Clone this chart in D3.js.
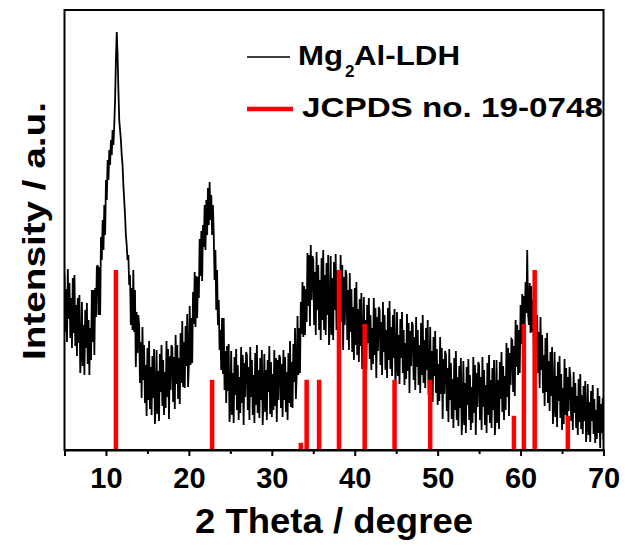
<!DOCTYPE html>
<html>
<head>
<meta charset="utf-8">
<script src="https://cdn.jsdelivr.net/npm/d3@7"></script>
<style>
  html, body { margin: 0; padding: 0; background: #fff; }
  svg { display: block; }
  text { font-family: "Liberation Sans", Arial, sans-serif; font-weight: bold; fill: #000; }
</style>
</head>
<body>
<svg id="chart" width="625" height="545"></svg>
<script>
// ---- data ----
const thetaStart = 5;      // first 2θ sample
const thetaStep = 0.1;     // sampling step (degree)
const intensity = [
175,118,161,108,181,131,167,112,152,102,
172,117,175,104,145,94,152,107,155,77,
95,148,84,125,75,140,102,147,86,130,
75,122,90,160,108,160,95,162,133,183,
185,135,183,135,213,190,230,200,245,215,
270,250,290,270,300,285,310,295,320,305,
325,350,390,418,395,360,330,320,310,295,
285,265,250,235,215,205,190,195,165,175,
125,162,120,180,118,160,83,138,97,135,
125,67,108,52,123,70,105,47,85,34,
102,50,109,41,83,35,94,52,101,26,
45,100,36,79,29,96,58,105,44,90,
35,78,42,109,53,101,31,94,60,105,
102,48,93,41,115,66,105,51,92,46,
117,67,129,63,108,62,124,84,136,63,
85,144,85,132,87,158,126,178,123,174,
132,173,152,211,174,219,169,225,203,245,
200,250,215,262,225,268,230,255,215,245,
215,170,200,140,180,125,150,100,120,80,
132,76,132,60,99,47,104,59,106,28,
45,99,35,77,27,93,55,101,40,85,
30,73,37,103,47,95,25,87,53,98,
95,40,83,30,103,53,90,35,75,27,
97,45,105,37,80,32,92,50,100,25,
50,96,38,80,30,90,58,104,36,88,
33,76,40,100,44,92,28,90,50,95,
92,42,86,33,100,50,93,38,78,30,
97,47,109,43,88,42,106,68,122,51,
75,134,75,122,77,148,116,168,113,164,
115,161,128,197,144,195,124,205,150,194,
190,125,178,115,198,140,185,120,170,110,
192,130,200,120,175,115,187,135,195,105,
130,194,115,172,110,188,140,196,120,180,
115,167,118,195,128,185,100,173,125,180,
175,110,160,100,177,118,161,98,143,90,
162,105,168,95,141,88,151,104,157,81,
100,153,89,130,80,145,107,152,91,135,
80,122,86,152,95,142,72,133,99,143,
140,85,128,75,148,98,135,80,120,72,
142,90,149,81,123,74,135,92,141,65,
85,138,74,115,66,131,92,138,77,120,
65,107,71,136,79,127,57,119,84,128,
125,70,113,60,133,83,120,65,105,57,
127,75,135,67,110,62,122,80,130,55,
70,123,58,99,48,113,74,119,57,101,
45,86,49,113,56,102,31,91,56,99,
95,39,82,28,101,50,87,31,71,22,
92,40,99,30,73,24,84,42,92,15,
35,89,25,67,17,83,45,91,30,75,
20,63,27,93,37,85,15,77,43,88,
85,30,73,20,93,43,80,25,65,17,
87,35,95,27,70,22,82,40,90,15,
35,90,27,70,21,88,51,98,38,84,
30,74,40,107,53,102,34,97,65,111,
110,58,104,54,130,83,125,75,120,77,
145,106,156,112,154,125,168,137,200,137,
125,167,117,164,118,150,100,138,95,132,
135,77,118,62,133,80,115,57,95,44,
112,58,117,47,89,39,98,54,103,26,
45,98,33,74,23,88,49,94,32,76,
20,62,26,91,35,82,12,73,39,83,
74,29,63,20,78,37,67,22,54,15,
71,28,76,21,55,16,64,29,69,8,
24,66,15,48,8,59,29,65,16,51,
7,40,11,62,17,54,2,46,17,52,
10
];
// JCPDS no. 19-0748 reference lines
const refTheta = [11.2, 22.8, 33.5, 34.2, 35.7, 38.1, 41.2, 44.8, 49.1, 59.2, 60.4, 61.7, 65.7];
const refIntensity = [100, 39, 4, 39, 39, 100, 70, 39, 39, 19, 70, 100, 19];
const majorTicks = [10, 20, 30, 40, 50, 60, 70];
const minorTicks = [5, 15, 25, 35, 45, 55, 65];
const xLabel = "2 Theta / degree";
const yLabel = "Intensity / a.u.";
const seriesNames = ["Mg", "2", "Al-LDH"];
const refName = "JCPDS no. 19-0748";

// ---- layout ----
const svg = d3.select("#chart");
const pLeft = 64.5, pRight = 603.5, pTop = 10, pBottom = 450;

const x = d3.scaleLinear().domain([5, 70]).range([pLeft, pRight]);
const y = d3.scaleLinear().domain([0, 440]).range([pBottom, pTop]);
const yRef = d3.scaleLinear().domain([0, 100]).range([pBottom, 270]);

const pattern = intensity.map((v, i) => ({ t: thetaStart + i * thetaStep, v }));

svg.append("defs").append("clipPath").attr("id", "clip")
  .append("rect").attr("x", pLeft).attr("y", pTop).attr("width", pRight - pLeft).attr("height", pBottom - pTop);

// black XRD pattern
svg.append("path")
  .datum(pattern)
  .attr("clip-path", "url(#clip)")
  .attr("fill", "none")
  .attr("stroke", "#000")
  .attr("stroke-width", 1.8)
  .attr("stroke-linejoin", "miter")
  .attr("d", d3.line().x(d => x(d.t)).y(d => y(d.v)));

// red reference bars
svg.append("g").selectAll("line")
  .data(refTheta.map((t, i) => ({ t, v: refIntensity[i] })))
  .join("line")
  .attr("x1", d => x(d.t)).attr("x2", d => x(d.t))
  .attr("y1", yRef(0)).attr("y2", d => yRef(d.v))
  .attr("stroke", "#f00")
  .attr("stroke-width", 4.5);

// frame
svg.append("rect")
  .attr("x", pLeft).attr("y", pTop)
  .attr("width", pRight - pLeft).attr("height", pBottom - pTop)
  .attr("fill", "none").attr("stroke", "#000").attr("stroke-width", 2);

// bottom axis
const gx = svg.append("g").attr("transform", `translate(0,${pBottom})`)
  .call(d3.axisBottom(x).tickValues(majorTicks).tickSize(6).tickFormat(d3.format("d")));
gx.select(".domain").attr("stroke-width", 2);
gx.selectAll(".tick line").attr("stroke-width", 2);
gx.selectAll(".tick text")
  .attr("y", 17).attr("dy", "0.71em")
  .style("font-size", "29px")
  .style("font-family", "'Liberation Sans', Arial, sans-serif")
  .style("font-weight", "bold");

const gm = svg.append("g").attr("transform", `translate(0,${pBottom})`)
  .call(d3.axisBottom(x).tickValues(minorTicks).tickSize(4).tickFormat(""));
gm.select(".domain").remove();
gm.selectAll(".tick line").attr("stroke-width", 2);

// axis titles
svg.append("text")
  .attr("x", 334).attr("y", 533)
  .attr("text-anchor", "middle")
  .attr("textLength", 278).attr("lengthAdjust", "spacingAndGlyphs")
  .style("font-size", "35px")
  .text(xLabel);

svg.append("text")
  .attr("transform", "translate(45,231) rotate(-90)")
  .attr("text-anchor", "middle")
  .attr("textLength", 258).attr("lengthAdjust", "spacingAndGlyphs")
  .style("font-size", "31px")
  .text(yLabel);

// legend
const lg = svg.append("g");
lg.append("line").attr("x1", 247).attr("x2", 290).attr("y1", 57).attr("y2", 57)
  .attr("stroke", "#000").attr("stroke-width", 1.5);
lg.append("text").attr("x", 298).attr("y", 65)
  .attr("textLength", 45).attr("lengthAdjust", "spacingAndGlyphs")
  .style("font-size", "28px").text(seriesNames[0]);
lg.append("text").attr("x", 345).attr("y", 77)
  .style("font-size", "17px").text(seriesNames[1]);
lg.append("text").attr("x", 354).attr("y", 65)
  .attr("textLength", 106).attr("lengthAdjust", "spacingAndGlyphs")
  .style("font-size", "28px").text(seriesNames[2]);

lg.append("line").attr("x1", 247).attr("x2", 293).attr("y1", 109).attr("y2", 109)
  .attr("stroke", "#f00").attr("stroke-width", 4.5);
lg.append("text").attr("x", 302).attr("y", 117)
  .attr("textLength", 301).attr("lengthAdjust", "spacingAndGlyphs")
  .style("font-size", "28px").text(refName);
</script>
</body>
</html>
